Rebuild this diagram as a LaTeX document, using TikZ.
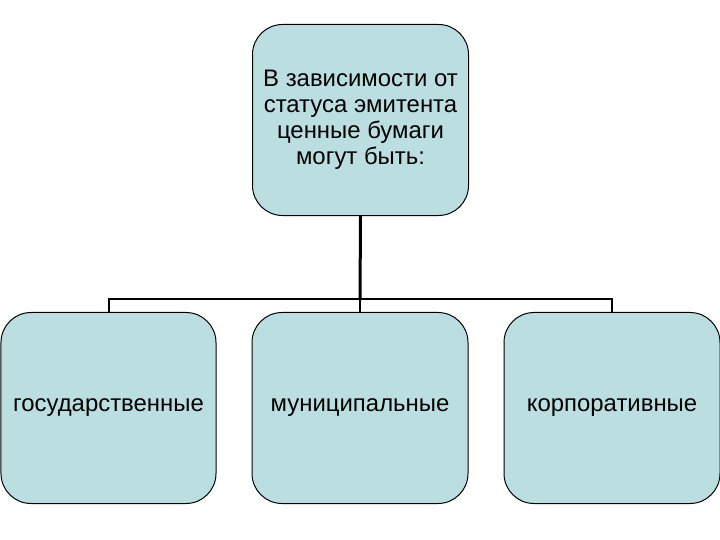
\documentclass[tikz,border=0pt]{standalone}
\usepackage{fontspec}
\setmainfont{Liberation Sans}
\definecolor{boxfill}{RGB}{187,223,225}
\tikzset{
  box/.style={draw=black, line width=1bp, fill=boxfill, rounded corners=30bp,
    minimum width=216bp, minimum height=191bp, inner sep=0pt, align=center,
    font=\fontsize{24}{26}\selectfont},
  conn/.style={draw=black, line width=2bp},
  mainconn/.style={draw=black, line width=3bp}
}
\begin{document}
\begin{tikzpicture}[x=1bp,y=-1bp]
\useasboundingbox (0,0) rectangle (720,540);
\node[box] (top) at (360.5,120) {В зависимости от\\статуса эмитента\\ценные бумаги\\могут быть:};
\node[box, minimum width=215bp] (left) at (108.5,408) {государственные};
\node[box] (mid) at (360,408) {муниципальные};
\node[box] (right) at (612,408) {корпоративные};
\coordinate (hub) at (360,299);
\draw[mainconn] (top.south) -- (hub);
\draw[conn] (left.north) |- (hub) -| (right.north);
\draw[conn] (hub) -- (mid.north);
\end{tikzpicture}
\end{document}
